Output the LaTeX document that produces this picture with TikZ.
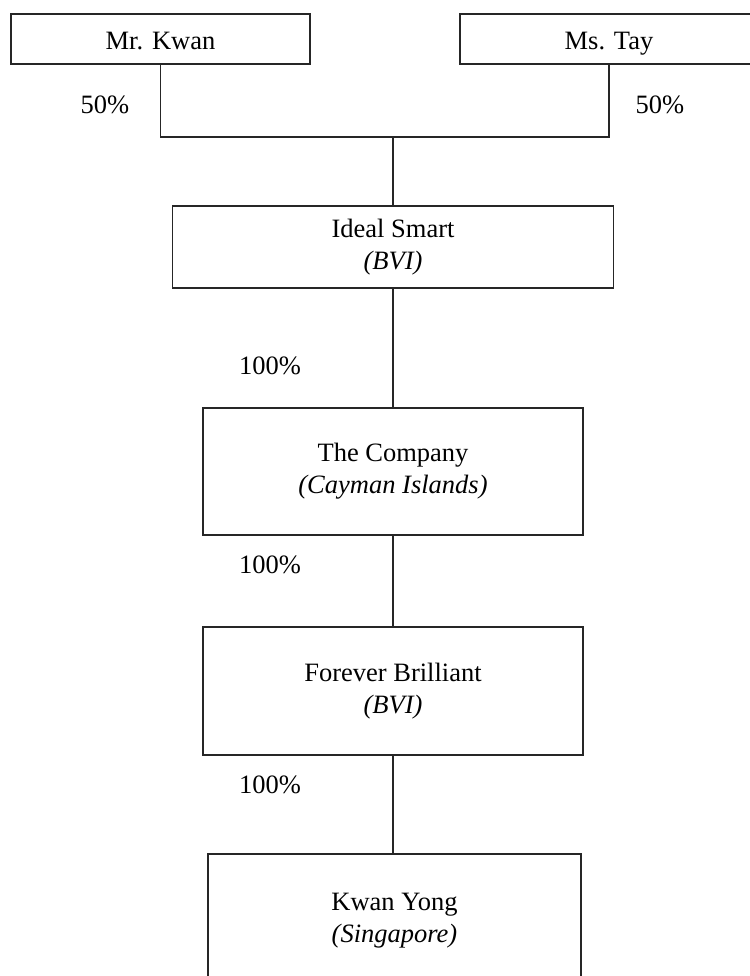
\documentclass[tikz,border=0pt]{standalone}
\usepackage{fontspec}
\setmainfont{Liberation Serif}
\begin{document}
\begin{tikzpicture}[x=1pt,y=-1pt,
  entity/.style={draw=black!85, line width=1.3pt, inner sep=0pt, align=center,
    font=\fontsize{26.5}{32}\selectfont},
  person/.style={entity, minimum height=50pt, text height=28pt, text depth=6pt},
  pct/.style={inner sep=0pt, font=\fontsize{26.5}{32}\selectfont},
  link/.style={draw=black!85, line width=1.3pt}]
\useasboundingbox (0,0) rectangle (749,976);
\node[person, minimum width=299pt] (kwan) at (160.5,39) {Mr. Kwan};
\node[person, minimum width=298pt] (tay) at (609,39) {Ms. Tay};
\node[entity, minimum width=441pt, minimum height=82pt] (ideal) at (393,247) {Ideal Smart\\\textit{(BVI)}};
\node[entity, minimum width=380pt, minimum height=127pt] (company) at (393,471.5) {The Company\\\textit{(Cayman Islands)}};
\node[entity, minimum width=380pt, minimum height=128pt] (forever) at (393,691) {Forever Brilliant\\\textit{(BVI)}};
\node[entity, minimum width=373pt, minimum height=134pt] (kwanyong) at (394.5,921) {Kwan Yong\\\textit{(Singapore)}};
\coordinate (j) at (393,137);
\draw[link] (kwan.south) |- (j) -| (tay.south);
\draw[link] (j) -- (ideal.north);
\draw[link] (ideal.south) -- (company.north);
\draw[link] (company.south) -- (forever.north);
\draw[link] (forever.south) -- (forever.south |- kwanyong.north);
\node[pct] (p1) at (105,105) {50\%};
\node[pct] (p2) at (660,105) {50\%};
\node[pct] (p3) at (270,366) {100\%};
\node[pct] (p4) at (270,565) {100\%};
\node[pct] (p5) at (270,785) {100\%};
\end{tikzpicture}
\end{document}
